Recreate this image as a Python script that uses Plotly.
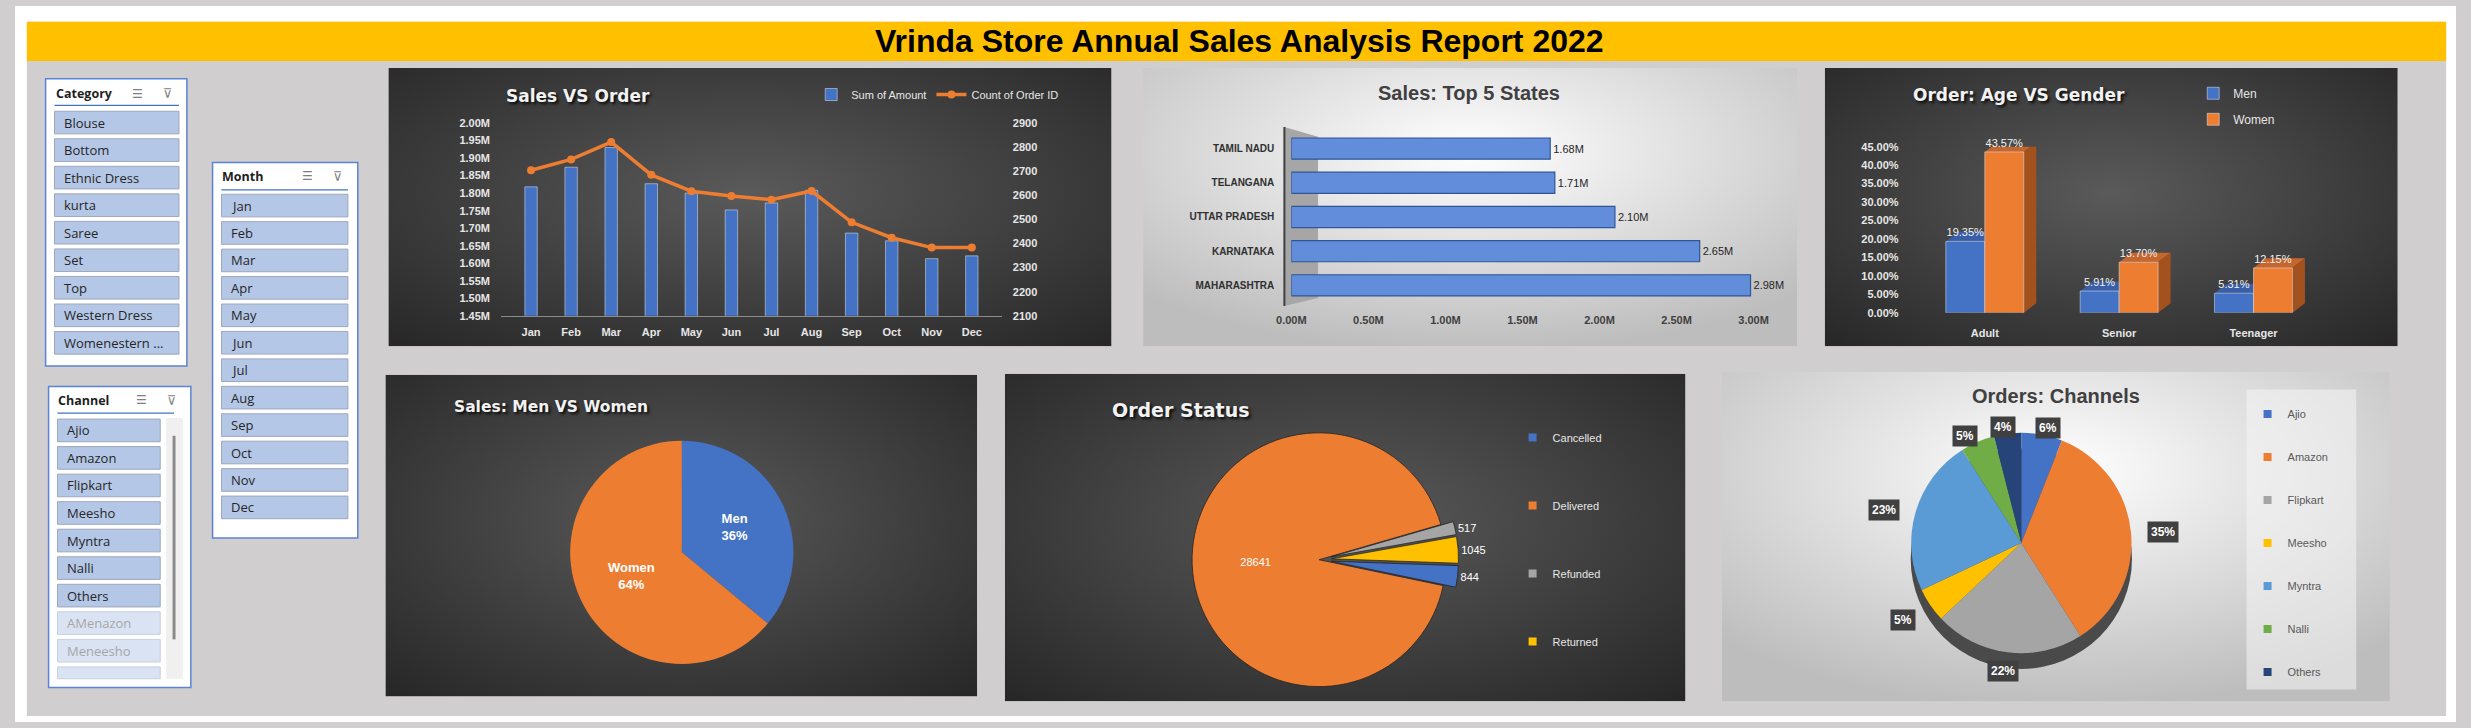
import base64
import math
import plotly.graph_objects as go

W, H = 2471, 728

# ---------------- data ----------------
MONTHS = ["Jan", "Feb", "Mar", "Apr", "May", "Jun", "Jul", "Aug", "Sep", "Oct", "Nov", "Dec"]
SALES_M = [1.818, 1.874, 1.930, 1.827, 1.800, 1.752, 1.772, 1.808, 1.686, 1.664, 1.613, 1.621]
ORDERS = [2704, 2749, 2821, 2685, 2617, 2597, 2582, 2618, 2488, 2424, 2383, 2383]

STATES = ["MAHARASHTRA", "KARNATAKA", "UTTAR PRADESH", "TELANGANA", "TAMIL NADU"]
STATE_SALES_M = [2.98, 2.65, 2.10, 1.71, 1.68]

AGE_GROUPS = ["Adult", "Senior", "Teenager"]
MEN_PCT = [19.35, 5.91, 5.31]
WOMEN_PCT = [43.57, 13.70, 12.15]

GENDERS = ["Men", "Women"]
GENDER_SALES_PCT = [36, 64]

STATUSES = ["Cancelled", "Delivered", "Refunded", "Returned"]
STATUS_ORDERS = [844, 28641, 517, 1045]

CHANNELS = ["Ajio", "Amazon", "Flipkart", "Meesho", "Myntra", "Nalli", "Others"]
CHANNEL_PCT = [6, 35, 22, 5, 23, 5, 4]

CATEGORY_ITEMS = ["Blouse", "Bottom", "Ethnic Dress", "kurta", "Saree", "Set", "Top",
                  "Western Dress", "Womenestern ..."]
MONTH_ITEMS = MONTHS
CHANNEL_ITEMS = CHANNELS + ["AMenazon", "Meneesho", "Menyntra"]

# ---------------- styles ----------------
SANS = "Liberation Sans, Arial, sans-serif"
WIDE = "DejaVu Sans, sans-serif"
SLICER_FONT = "Open Sans, sans-serif"
BLUE, ORANGE, GRAY, GOLD = "#4472C4", "#ED7D31", "#A5A5A5", "#FFC000"
LBLUE, GREEN, NAVY = "#5B9BD5", "#70AD47", "#264478"
STATUS_COLORS = [BLUE, ORANGE, GRAY, GOLD]
CHANNEL_COLORS = [BLUE, ORANGE, GRAY, GOLD, LBLUE, GREEN, NAVY]
LIGHT_TXT = "#E6E6E6"
AGE_BARGAP = 0.42

shapes, annotations, images = [], [], []


def X(px):
    return px / W


def Y(py):
    return 1 - py / H


def add_rect(x0, y0, x1, y1, fill, line=None, lw=0, layer="below"):
    shapes.append(dict(type="rect", xref="paper", yref="paper",
                       x0=X(x0), x1=X(x1), y0=Y(y1), y1=Y(y0),
                       fillcolor=fill, line=dict(color=line or fill, width=lw), layer=layer))


def add_line(x0, y0, x1, y1, color, lw=1, layer="below"):
    shapes.append(dict(type="line", xref="paper", yref="paper",
                       x0=X(x0), x1=X(x1), y0=Y(y0), y1=Y(y1),
                       line=dict(color=color, width=lw), layer=layer))


def add_text(x, y, s, size, color, family=SANS, weight=400, xanchor="left", shadow=None, **kw):
    f = dict(family=family, size=size, color=color, weight=weight)
    if shadow:
        f["shadow"] = shadow
    annotations.append(dict(x=X(x), y=Y(y), xref="paper", yref="paper", text=s, showarrow=False,
                            xanchor=xanchor, yanchor="middle", font=f, **kw))


def add_gradient(x0, y0, x1, y1, inner, outer, cx, cy, r):
    w, h = x1 - x0, y1 - y0
    svg = (f'<svg xmlns="http://www.w3.org/2000/svg" width="{w}" height="{h}" '
           f'viewBox="0 0 {w} {h}" preserveAspectRatio="none">'
           f'<defs><radialGradient id="g" cx="{cx}" cy="{cy}" r="{r}">'
           f'<stop offset="0" stop-color="{inner}"/><stop offset="1" stop-color="{outer}"/>'
           f'</radialGradient></defs><rect width="{w}" height="{h}" fill="url(#g)"/></svg>')
    src = "data:image/svg+xml;base64," + base64.b64encode(svg.encode()).decode()
    images.append(dict(source=src, xref="paper", yref="paper", x=X(x0), y=Y(y0),
                       sizex=w / W, sizey=h / H, xanchor="left", yanchor="top",
                       sizing="stretch", layer="below"))


# ---------------- page frame (paper itself is the grey canvas) ----------------
add_rect(0, 0, W, 16, "#FFFFFF")
add_rect(0, 0, 12, H, "#FFFFFF")
add_rect(2461, 0, W, H, "#FFFFFF")
add_rect(0, 722, W, H, "#FFFFFF")
add_rect(12, 16, 2461, 56, "#FFC000")
add_text(1240, 36, "Vrinda Store Annual Sales Analysis Report 2022", 32, "#000000",
         family=SANS, weight=700, xanchor="center")

# panels
DARK_PANELS = [(378, 63, 1110, 346), (1832, 63, 2412, 346), (375, 375, 974, 702), (1002, 374, 1691, 707)]
LIGHT_PANELS = [(1142, 63, 1804, 346), (1728, 372, 2404, 707)]
for p in DARK_PANELS:
    add_gradient(*p, "#5A5A5A", "#262626", 0.5, 0.45, 0.75)
for p in LIGHT_PANELS:
    add_gradient(*p, "#FFFFFF", "#BDBDBD", 0.5, 0.3, 0.72)


# ---------------- slicers ----------------
def slicer(box, title, icon_xs, head_y, line_y, items, ix0, ix1, top0, step, n_active, clip_y=None):
    x0, y0, x1, y1 = box
    add_rect(x0, y0, x1, y1, "#FFFFFF", "#5B83D6", 1.5)
    add_text(ix0 - 1, head_y, title, 12.5, "#1F1F1F", family=SLICER_FONT, weight=700)
    add_text(icon_xs[0], head_y, "☰", 12, "#7F7F7F", family="DejaVu Sans", xanchor="center")
    add_text(icon_xs[1], head_y, "⊽", 13, "#7F7F7F", family="DejaVu Sans", xanchor="center")
    add_line(ix0, line_y, ix1 + (x1 - ix1) * 0.45 if clip_y else ix1, line_y, "#4472C4", 1.2)
    for i, it in enumerate(items):
        t = top0 + i * step
        b = t + 23
        if clip_y is not None and t >= clip_y:
            break
        bb = min(b, clip_y) if clip_y is not None else b
        active = i < n_active
        add_rect(ix0, t, ix1, bb, "#B4C7E7" if active else "#DAE3F3",
                 "#9EA7B8" if active else "#C8D0DE", 1)
        if bb == b:
            add_text(ix0 + 8, t + 11.5, it, 13, "#262626" if active else "#A6A6A6",
                     family=SLICER_FONT)


slicer((31, 74, 174, 366), "Category", (124, 155), 89, 101, CATEGORY_ITEMS, 40, 166, 107, 28,
       len(CATEGORY_ITEMS))
slicer((200, 159, 347, 541), "Month", (296, 327), 173, 187, MONTH_ITEMS, 209, 337, 191.4, 27.9,
       len(MONTH_ITEMS))
slicer((34, 387, 178, 693), "Channel", (128, 159), 401, 414, CHANNEL_ITEMS, 43, 147, 420, 28,
       len(CHANNELS), clip_y=684)
add_rect(153, 419, 170, 684, "#F0F0F0")
add_line(161, 437, 161, 644, "#8C8C8C", 3)

# ---------------- chart titles ----------------
TITLE_SHADOW = "2px 2px 3px rgba(0,0,0,0.85)"
add_text(495, 91, "Sales VS Order", 17, "#F2F2F2", family=WIDE, weight=700, shadow=TITLE_SHADOW)
add_text(1472, 88, "Sales: Top 5 States", 20, "#404040", family=SANS, weight=700, xanchor="center")
add_text(1919, 90, "Order: Age VS Gender", 17, "#F2F2F2", family=WIDE, weight=700, shadow=TITLE_SHADOW)
add_text(442, 408, "Sales: Men VS Women", 15.5, "#F2F2F2", family=WIDE, weight=700, shadow=TITLE_SHADOW)
add_text(1108, 411, "Order Status", 19, "#F2F2F2", family=WIDE, weight=700, shadow=TITLE_SHADOW)
add_text(2066, 397, "Orders: Channels", 20, "#404040", family=SANS, weight=700, xanchor="center")

# 3D wall of the states chart
shapes.append(dict(type="path", xref="paper", yref="paper",
                   path=f"M {X(1285)} {Y(123)} L {X(1319)} {Y(133)} L {X(1319)} {Y(297)} L {X(1285)} {Y(305)} Z",
                   fillcolor="#A6A6A6", line=dict(color="#A6A6A6", width=0), layer="below"))
add_line(1285, 123, 1285, 305, "#3F3F3F", 2)

# legend box of channel pie
add_rect(2259, 390, 2370, 695, "rgba(245,245,245,0.55)")

# 3D depth faces of the age/gender columns, derived from the bar values (category-index units)
half = (1 - AGE_BARGAP) / 2
DX, DY = 0.093, 2.6
for i, (m, w) in enumerate(zip(MEN_PCT, WOMEN_PCT)):
    faces = [
        (f"M {i - half} {m} L {i - half + DX} {m + DY} L {i + DX} {m + DY} L {i} {m} Z", "#3A5FA6"),
        (f"M {i} {w} L {i + DX} {w + DY} L {i + half + DX} {w + DY} L {i + half} {w} Z", "#C4662E"),
        (f"M {i + half} 0 L {i + half + DX} {DY} L {i + half + DX} {w + DY} L {i + half} {w} Z", "#A4521D"),
    ]
    for path, col in faces:
        shapes.append(dict(type="path", xref="x3", yref="y4", path=path, fillcolor=col,
                           line=dict(width=0), layer="below"))

fig = go.Figure()

tick_light = dict(family=SANS, size=11, color=LIGHT_TXT, weight=700)
tick_dark = dict(family=SANS, size=11, color="#404040", weight=700)

# ---------- Sales VS Order ----------
fig.add_trace(go.Bar(x=MONTHS, y=SALES_M, name="Sum of Amount", width=0.31,
                     marker=dict(color=BLUE), xaxis="x", yaxis="y",
                     legend="legend", legendgroup="amt"))
fig.add_trace(go.Scatter(x=MONTHS, y=ORDERS, name="Count of Order ID", mode="lines+markers",
                         line=dict(color=ORANGE, width=3.5), marker=dict(color=ORANGE, size=8),
                         xaxis="x", yaxis="y2", legend="legend", legendgroup="cnt"))

# ---------- Top 5 states ----------
fig.add_trace(go.Bar(x=STATE_SALES_M, y=STATES, orientation="h", width=0.62,
                     marker=dict(color="#628DDA", line=dict(color="#2F5597", width=1.2)),
                     texttemplate="%{x:.2f}M", textposition="outside", cliponaxis=False,
                     textfont=dict(family=SANS, size=11, color="#262626"),
                     xaxis="x2", yaxis="y3", showlegend=False))

# ---------- Age vs Gender ----------
fig.add_trace(go.Bar(x=AGE_GROUPS, y=MEN_PCT, name="Men", marker=dict(color=BLUE),
                     texttemplate="%{y:.2f}%", textposition="outside", cliponaxis=False,
                     textfont=dict(family=SANS, size=11, color="#F2F2F2"),
                     xaxis="x3", yaxis="y4", legend="legend2", legendgroup="men"))
fig.add_trace(go.Bar(x=AGE_GROUPS, y=WOMEN_PCT, name="Women", marker=dict(color=ORANGE),
                     texttemplate="%{y:.2f}%", textposition="outside", cliponaxis=False,
                     textfont=dict(family=SANS, size=11, color="#F2F2F2"),
                     xaxis="x3", yaxis="y4", legend="legend2", legendgroup="women"))

# ---------- Men vs Women pie ----------
fig.add_trace(go.Pie(labels=GENDERS, values=GENDER_SALES_PCT, sort=False, direction="clockwise",
                     rotation=0, domain=dict(x=[X(562), X(788)], y=[Y(669), Y(442)]),
                     marker=dict(colors=[BLUE, ORANGE], line=dict(width=0)),
                     texttemplate="%{label}<br>%{percent:.0%}", textposition="inside",
                     insidetextorientation="horizontal",
                     textfont=dict(family=SANS, size=13, color="#FFFFFF", weight=700),
                     showlegend=False))

# ---------- Order status pie ----------
S_CX, S_CY, S_R, S_PULL = 1320, 563, 129, 0.1
S_RD = S_R * (1 + S_PULL)
fig.add_trace(go.Pie(labels=STATUSES, values=STATUS_ORDERS, sort=False, direction="clockwise",
                     rotation=92, pull=[S_PULL, 0, S_PULL, S_PULL],
                     domain=dict(x=[X(S_CX - S_RD), X(S_CX + S_RD)], y=[Y(S_CY + S_RD), Y(S_CY - S_RD)]),
                     marker=dict(colors=STATUS_COLORS, line=dict(color="rgba(30,30,30,0.7)", width=1)),
                     texttemplate="%{value:.0f}", textposition=["outside", "inside", "outside", "outside"],
                     insidetextorientation="horizontal",
                     textfont=dict(family=SANS, size=11, color="#FFFFFF"),
                     showlegend=False))
for lab, col in zip(STATUSES, STATUS_COLORS):
    fig.add_trace(go.Scatter(x=[None], y=[None], mode="markers", name=lab,
                             marker=dict(symbol="square", size=8, color=col),
                             xaxis="x", yaxis="y", legend="legend3", legendgroup="st_" + lab,
                             hoverinfo="skip"))

# ---------- Channels pie ----------
C_CX, C_CY, C_R = 2031, 546, 112
# dark rim under the pie to suggest the 3D edge
shapes.append(dict(type="circle", xref="paper", yref="paper",
                   x0=X(C_CX - C_R), x1=X(C_CX + C_R), y0=Y(C_CY + C_R + 16), y1=Y(C_CY - C_R + 16),
                   fillcolor="#4A4A4A", line=dict(width=0), layer="below"))
fig.add_trace(go.Pie(labels=CHANNELS, values=CHANNEL_PCT, sort=False, direction="clockwise",
                     rotation=0, domain=dict(x=[X(C_CX - C_R), X(C_CX + C_R)], y=[Y(C_CY + C_R), Y(C_CY - C_R)]),
                     marker=dict(colors=CHANNEL_COLORS, line=dict(width=0)),
                     textinfo="none", showlegend=False))
for lab, col in zip(CHANNELS, CHANNEL_COLORS):
    fig.add_trace(go.Scatter(x=[None], y=[None], mode="markers", name=lab,
                             marker=dict(symbol="square", size=8, color=col),
                             xaxis="x", yaxis="y", legend="legend4", legendgroup="ch_" + lab,
                             hoverinfo="skip"))
# percentage call-outs placed from each slice's mid angle
total = sum(CHANNEL_PCT)
cum = 0
for v in CHANNEL_PCT:
    mid = math.radians((cum + v / 2) / total * 360)
    cum += v
    lx = C_CX + C_R * 1.29 * math.sin(mid)
    ly = C_CY - C_R * 1.06 * math.cos(mid) + (12 if math.cos(mid) < -0.5 else 0)
    add_text(lx, ly, f"{v / total:.0%}", 12, "#FFFFFF", weight=700, xanchor="center",
             bgcolor="#404040", borderpad=3)

leg_common = dict(bgcolor="rgba(0,0,0,0)", xanchor="left", itemclick=False, itemdoubleclick=False)

fig.update_layout(
    autosize=True,
    margin=dict(l=0, r=0, t=0, b=0),
    paper_bgcolor="#D0CECE", plot_bgcolor="rgba(0,0,0,0)",
    barmode="group", bargap=AGE_BARGAP, bargroupgap=0,
    shapes=shapes, annotations=annotations, images=images,
    hovermode=False,
    xaxis=dict(domain=[X(492), X(999)], anchor="y", showgrid=False, zeroline=False,
               showline=True, linecolor="#8C8C8C", linewidth=1, ticks="",
               tickfont=tick_light, ticklabelstandoff=6, fixedrange=True),
    yaxis=dict(domain=[Y(315), Y(119)], anchor="x", range=[1.4499, 2.0001], tick0=1.45, dtick=0.05,
               tickformat=".2f", ticksuffix="M", showgrid=False, zeroline=False, ticks="",
               tickfont=tick_light, ticklabelstandoff=10, fixedrange=True),
    yaxis2=dict(overlaying="y", anchor="x", side="right", range=[2099.9, 2900.1], tick0=2100, dtick=100,
                showgrid=False, zeroline=False, ticks="", tickfont=tick_light,
                ticklabelstandoff=10, fixedrange=True),
    xaxis2=dict(domain=[X(1292), X(1760)], anchor="y3", range=[-0.0001, 3.0001], tick0=0, dtick=0.5,
                tickformat=".2f", ticksuffix="M", showgrid=False, zeroline=False, showline=False,
                ticks="", tickfont=tick_dark, ticklabelstandoff=10, fixedrange=True),
    yaxis3=dict(domain=[Y(301.4), Y(127.6)], anchor="x2", showgrid=False, zeroline=False,
                ticks="", tickfont=dict(family=SANS, size=10, color="#303030", weight=700),
                ticklabelstandoff=16, fixedrange=True),
    xaxis3=dict(domain=[X(1926), X(2334)], anchor="y4", showgrid=False, zeroline=False,
                showline=False, ticks="", tickfont=tick_light, ticklabelstandoff=12, fixedrange=True),
    yaxis4=dict(domain=[Y(312), Y(143)], anchor="x3", range=[-0.001, 45.001], tick0=0, dtick=5,
                tickformat=".2f", ticksuffix="%", showgrid=False, zeroline=False, ticks="",
                tickfont=tick_light, ticklabelstandoff=18, fixedrange=True),
    legend=dict(orientation="h", x=X(806), y=Y(90), yanchor="middle",
                font=dict(family=SANS, size=11, color=LIGHT_TXT), **leg_common),
    legend2=dict(orientation="v", x=X(2205), y=Y(74), yanchor="top", traceorder="grouped",
                 tracegroupgap=7, font=dict(family=SANS, size=12, color=LIGHT_TXT), **leg_common),
    legend3=dict(orientation="v", x=X(1516), y=Y(424), yanchor="top", traceorder="grouped",
                 tracegroupgap=49, font=dict(family=SANS, size=11, color=LIGHT_TXT), **leg_common),
    legend4=dict(orientation="v", x=X(2260), y=Y(400), yanchor="top", traceorder="grouped",
                 tracegroupgap=24, font=dict(family=SANS, size=11, color="#595959"), **leg_common),
)

# The plot div is pinned to the window's top-left corner at exactly 2471x728 px.
fig.write_html("out.html", include_plotlyjs=True, config={"displayModeBar": False},
               default_width=f"{W}px; position:fixed; left:0; top:0",
               default_height=f"{H}px",
               post_script="document.body.style.margin='0';document.body.style.overflow='hidden';")
